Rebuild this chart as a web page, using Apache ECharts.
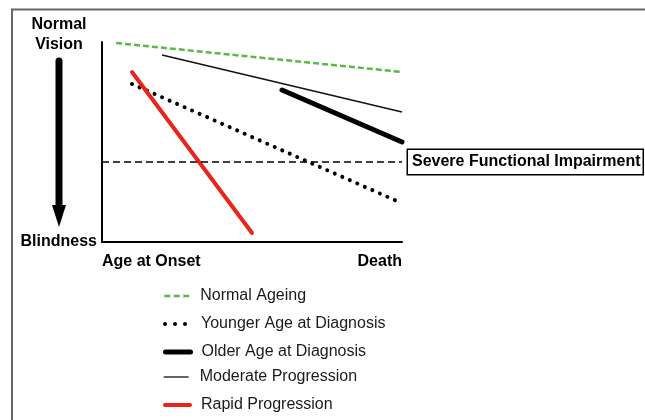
<!DOCTYPE html>
<html>
<head>
<meta charset="utf-8">
<script src="https://cdn.jsdelivr.net/npm/echarts@6/dist/echarts.min.js"></script>
<style>
    html, body {margin: 0; padding: 0; background: #fff;}
    #chart {width: 645px; height: 420px;}
</style>
</head>
<body>
<div id="chart"></div>
<script>
// data: [time (0 = onset, 100 = death), vision (0 = blindness, 100 = normal)]
const normalAgeing = [[4.7, 99.5], [100, 85]];
const youngerDiagnosis = [[10, 79], [98.3, 20.5]];
const olderDiagnosis = [[60, 76], [100, 50]];
const moderateProgression = [[20, 93.5], [100, 65]];
const rapidProgression = [[10, 85], [50, 4.5]];
const impairmentLevel = 40;
const impairmentLabel = 'Severe Functional Impairment';
const xTickLabels = {0: 'Age at Onset', 100: 'Death'};
const yTickLabels = {0: 'Blindness'};
const legendNames = ['Normal Ageing', 'Younger Age at Diagnosis', 'Older Age at Diagnosis', 'Moderate Progression', 'Rapid Progression'];

const font = "'Liberation Sans', Arial, sans-serif";

// legend rows: centre y and the icon line style of each row
const legendRows = [
    {y: 296, lineStyle: {color: '#5ab947', width: 2.5, type: [6, 3.5]}},
    {y: 324, lineStyle: {color: '#000', width: 4, type: [0.01, 10], cap: 'round'}},
    {y: 352, lineStyle: {color: '#000', width: 5}},
    {y: 377, lineStyle: {color: '#111', width: 1.3}},
    {y: 405, lineStyle: {color: '#e8241c', width: 4}},
];

const chart = echarts.init(document.getElementById('chart'));

const lineSeries = (name, data, lineStyle) => ({
    name,
    type: 'line',
    data,
    symbol: 'none',
    itemStyle: {color: lineStyle.color},
    lineStyle,
});

const option = {
    animation: false,
    backgroundColor: '#fff',
    textStyle: {fontFamily: font},
    grid: {left: 102, right: 243, top: 42, bottom: 178},
    xAxis: {
        type: 'value',
        min: 0,
        max: 100,
        interval: 100,
        axisLine: {show: true, lineStyle: {color: '#000', width: 2}},
        axisTick: {show: false},
        splitLine: {show: false},
        axisLabel: {
            margin: 12,
            color: '#000',
            fontSize: 16,
            fontWeight: 'bold',
            fontFamily: font,
            alignMinLabel: 'left',
            alignMaxLabel: 'right',
            formatter: v => xTickLabels[v] || '',
        },
    },
    yAxis: {
        type: 'value',
        min: 0,
        max: 100,
        interval: 100,
        axisLine: {show: true, lineStyle: {color: '#000', width: 2}},
        axisTick: {show: false},
        splitLine: {show: false},
        axisLabel: {
            margin: 5,
            color: '#000',
            fontSize: 16,
            fontWeight: 'bold',
            fontFamily: font,
            padding: [0, 0, 10, 0],
            formatter: v => yTickLabels[v] || '',
        },
    },
    legend: legendNames.map((name, i) => ({
        data: [name],
        left: 163,
        top: legendRows[i].y - 8,
        padding: 0,
        itemWidth: 25,
        itemHeight: 14,
        lineStyle: legendRows[i].lineStyle,
        // hide the symbol dot, keep only the line sample
        itemStyle: {color: 'rgba(0,0,0,0)', borderWidth: 0, opacity: 0},
        selectedMode: false,
        textStyle: {fontSize: 16, color: '#1a1a1a', fontFamily: font, padding: [0, 0, 0, 6]},
    })),
    series: [
        {
            name: 'threshold',
            type: 'line',
            data: [],
            markLine: {
                silent: true,
                symbol: 'none',
                lineStyle: {color: '#000', width: 1.5, type: [7, 4]},
                label: {
                    show: true,
                    position: 'end',
                    distance: 6,
                    formatter: impairmentLabel,
                    color: '#000',
                    fontSize: 16,
                    fontWeight: 'bold',
                    fontFamily: font,
                    backgroundColor: '#fff',
                    borderColor: '#000',
                    borderWidth: 1.5,
                    padding: [4, 2, 4, 4],
                },
                data: [{yAxis: impairmentLevel}],
            },
        },
        lineSeries('Normal Ageing', normalAgeing, {color: '#5ab947', width: 2.5, type: [6, 3]}),
        lineSeries('Moderate Progression', moderateProgression, {color: '#111', width: 1.3}),
        lineSeries('Older Age at Diagnosis', olderDiagnosis, {color: '#000', width: 5, cap: 'round'}),
        lineSeries('Younger Age at Diagnosis', youngerDiagnosis, {color: '#000', width: 4, type: [0.01, 8.2], cap: 'round'}),
        lineSeries('Rapid Progression', rapidProgression, {color: '#e8241c', width: 4, cap: 'round'}),
    ],
    graphic: [
        // frame
        {
            type: 'rect',
            z: -1,
            shape: {x: 12, y: 9.5, width: 700, height: 500},
            style: {fill: 'none', stroke: '#666', lineWidth: 2},
        },
        {
            type: 'text',
            position: [59, 25],
            style: {
                text: 'Normal',
                fill: '#000',
                font: 'bold 16px ' + font,
                textAlign: 'center',
                textVerticalAlign: 'middle',
            },
        },
        {
            type: 'text',
            position: [59, 45],
            style: {
                text: 'Vision',
                fill: '#000',
                font: 'bold 16px ' + font,
                textAlign: 'center',
                textVerticalAlign: 'middle',
            },
        },
        // arrow from normal vision down to blindness
        {
            type: 'line',
            shape: {x1: 59, y1: 61, x2: 59, y2: 208},
            style: {stroke: '#000', lineWidth: 7, lineCap: 'round'},
        },
        {
            type: 'polygon',
            shape: {points: [[52, 205], [66, 205], [59, 227]]},
            style: {fill: '#000'},
        },
    ],
};

chart.setOption(option);
</script>
</body>
</html>
